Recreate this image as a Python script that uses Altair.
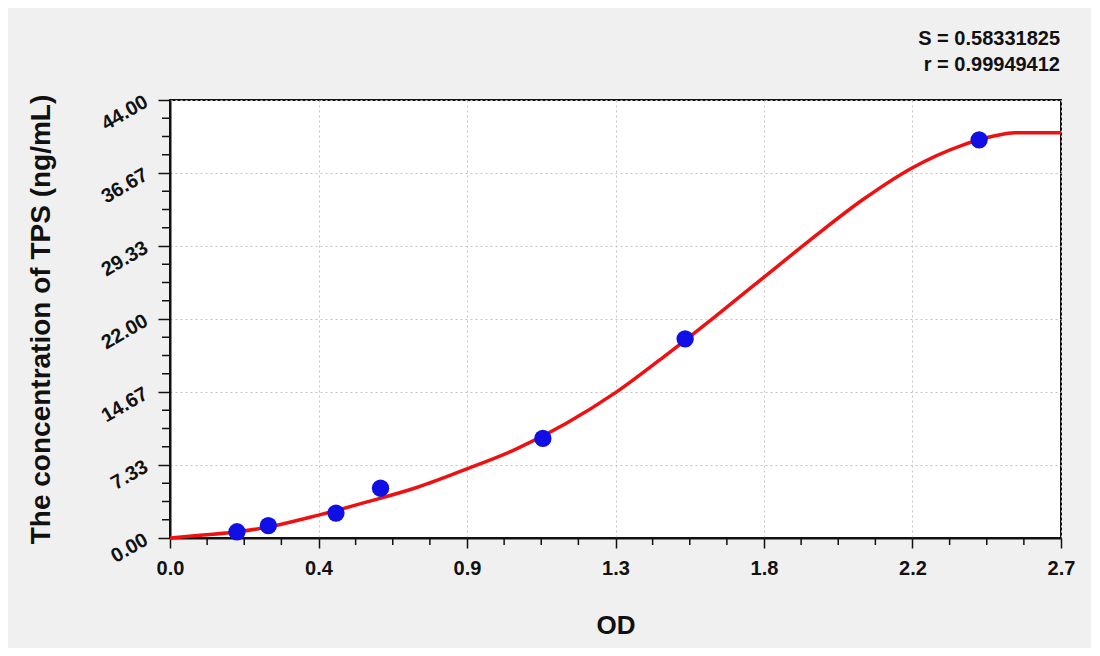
import altair as alt
import pandas as pd

# Standard points (OD, concentration)
pt_od = [0.203, 0.298, 0.503, 0.638, 1.130, 1.561, 2.452]
pt_conc = [0.625, 1.25, 2.5, 5.0, 10.0, 20.0, 40.0]

# Fitted curve
curve_od = [0.0, 0.1, 0.2, 0.3, 0.45, 0.6, 0.75, 0.9, 1.05, 1.2, 1.35, 1.5,
            1.65, 1.8, 1.95, 2.1, 2.25, 2.4, 2.5, 2.56, 2.7]
curve_conc = [0.0, 0.29, 0.6, 1.12, 2.3, 3.65, 5.1, 6.95, 8.95, 11.5, 14.6, 18.3,
              22.2, 26.2, 30.2, 34.0, 37.2, 39.45, 40.4, 40.72, 40.72]

x_ticks = [0.0, 0.45, 0.9, 1.35, 1.8, 2.25, 2.7]
x_tick_labels = ["0.0", "0.4", "0.9", "1.3", "1.8", "2.2", "2.7"]
y_ticks = [0.0, 7.3333, 14.6667, 22.0, 29.3333, 36.6667, 44.0]
x_minor = [i * 0.1125 for i in range(25) if i % 4 != 0]
y_minor = [i * 44 / 24 for i in range(25) if i % 4 != 0]

stat_lines = ["S = 0.58331825", "r = 0.99949412"]

FONT = "Liberation Sans"
W, H = 891, 438

pts = pd.DataFrame({"od": pt_od, "conc": pt_conc})
crv = pd.DataFrame({"od": curve_od, "conc": curve_conc})

label_expr = "[" + ",".join("'%s'" % s for s in x_tick_labels) + "][round(datum.value / 0.45)]"

xscale = alt.Scale(domain=[0, 2.7], nice=False, zero=False)
yscale = alt.Scale(domain=[0, 44], nice=False, zero=False)

xaxis = alt.Axis(values=x_ticks, labelExpr=label_expr, title="OD", labelFlush=False,
                 labelFont=FONT, labelFontSize=20, labelFontWeight="bold", labelColor="#111",
                 labelPadding=10, tickSize=10, tickWidth=1.5, tickColor="#111",
                 domainColor="#111", domainWidth=2,
                 grid=True, gridColor="#c4c4c4", gridDash=[2, 3], gridWidth=1,
                 titleFont=FONT, titleFontSize=26, titleFontWeight="bold", titleColor="#111",
                 titleX=W / 2, titleY=95, titleBaseline="alphabetic", titleAlign="center")
yaxis = alt.Axis(values=y_ticks, format=".2f", title="The concentration of TPS (ng/mL)",
                 labelFlush=False,
                 labelFont=FONT, labelFontSize=20, labelFontWeight="bold", labelColor="#111",
                 labelAngle=330, labelAlign="right", labelBaseline="middle",
                 labelPadding=12, tickSize=12, tickWidth=1.5, tickColor="#111",
                 domainColor="#111", domainWidth=2,
                 grid=True, gridColor="#c4c4c4", gridDash=[2, 3], gridWidth=1,
                 titleFont=FONT, titleFontSize=28, titleFontWeight="bold", titleColor="#111",
                 titleAngle=270, titleX=-121, titleY=H / 2, titleBaseline="alphabetic",
                 titleAlign="center")

line = alt.Chart(crv).mark_line(color="#ee1111", strokeWidth=3.5, interpolate="monotone").encode(
    x=alt.X("od:Q", scale=xscale, axis=xaxis),
    y=alt.Y("conc:Q", scale=yscale, axis=yaxis),
)
points = alt.Chart(pts).mark_circle(color="#1010e6", opacity=1, size=300).encode(
    x=alt.X("od:Q", scale=xscale),
    y=alt.Y("conc:Q", scale=yscale),
)

xm = alt.Chart(pd.DataFrame({"v": x_minor})).mark_rule(color="#111", strokeWidth=1.5).encode(
    x=alt.X("v:Q", scale=xscale), y=alt.value(H), y2=alt.value(H + 7))
ym = alt.Chart(pd.DataFrame({"v": y_minor})).mark_rule(color="#111", strokeWidth=1.5).encode(
    y=alt.Y("v:Q", scale=yscale), x=alt.value(-8), x2=alt.value(0))

txt_df = pd.DataFrame({"t": stat_lines, "row": [0, 1]})
t1 = alt.Chart(txt_df.iloc[[0]]).mark_text(
    font=FONT, fontSize=20, fontWeight="bold", color="#111", align="right", baseline="alphabetic"
).encode(text="t:N", x=alt.value(W - 1), y=alt.value(-55))
t2 = alt.Chart(txt_df.iloc[[1]]).mark_text(
    font=FONT, fontSize=20, fontWeight="bold", color="#111", align="right", baseline="alphabetic"
).encode(text="t:N", x=alt.value(W - 1), y=alt.value(-29))

chart = alt.layer(line, points, xm, ym, t1, t2).properties(
    width=W, height=H,
    autosize=alt.AutoSizeParams(type="none"),
    padding={"left": 162, "top": 92, "right": 30, "bottom": 110},
    background="#f0f0f0",
).configure_view(stroke="#111", strokeWidth=2, fill="white")

chart.save("out.html", embed_options={"renderer": "svg", "actions": False})
